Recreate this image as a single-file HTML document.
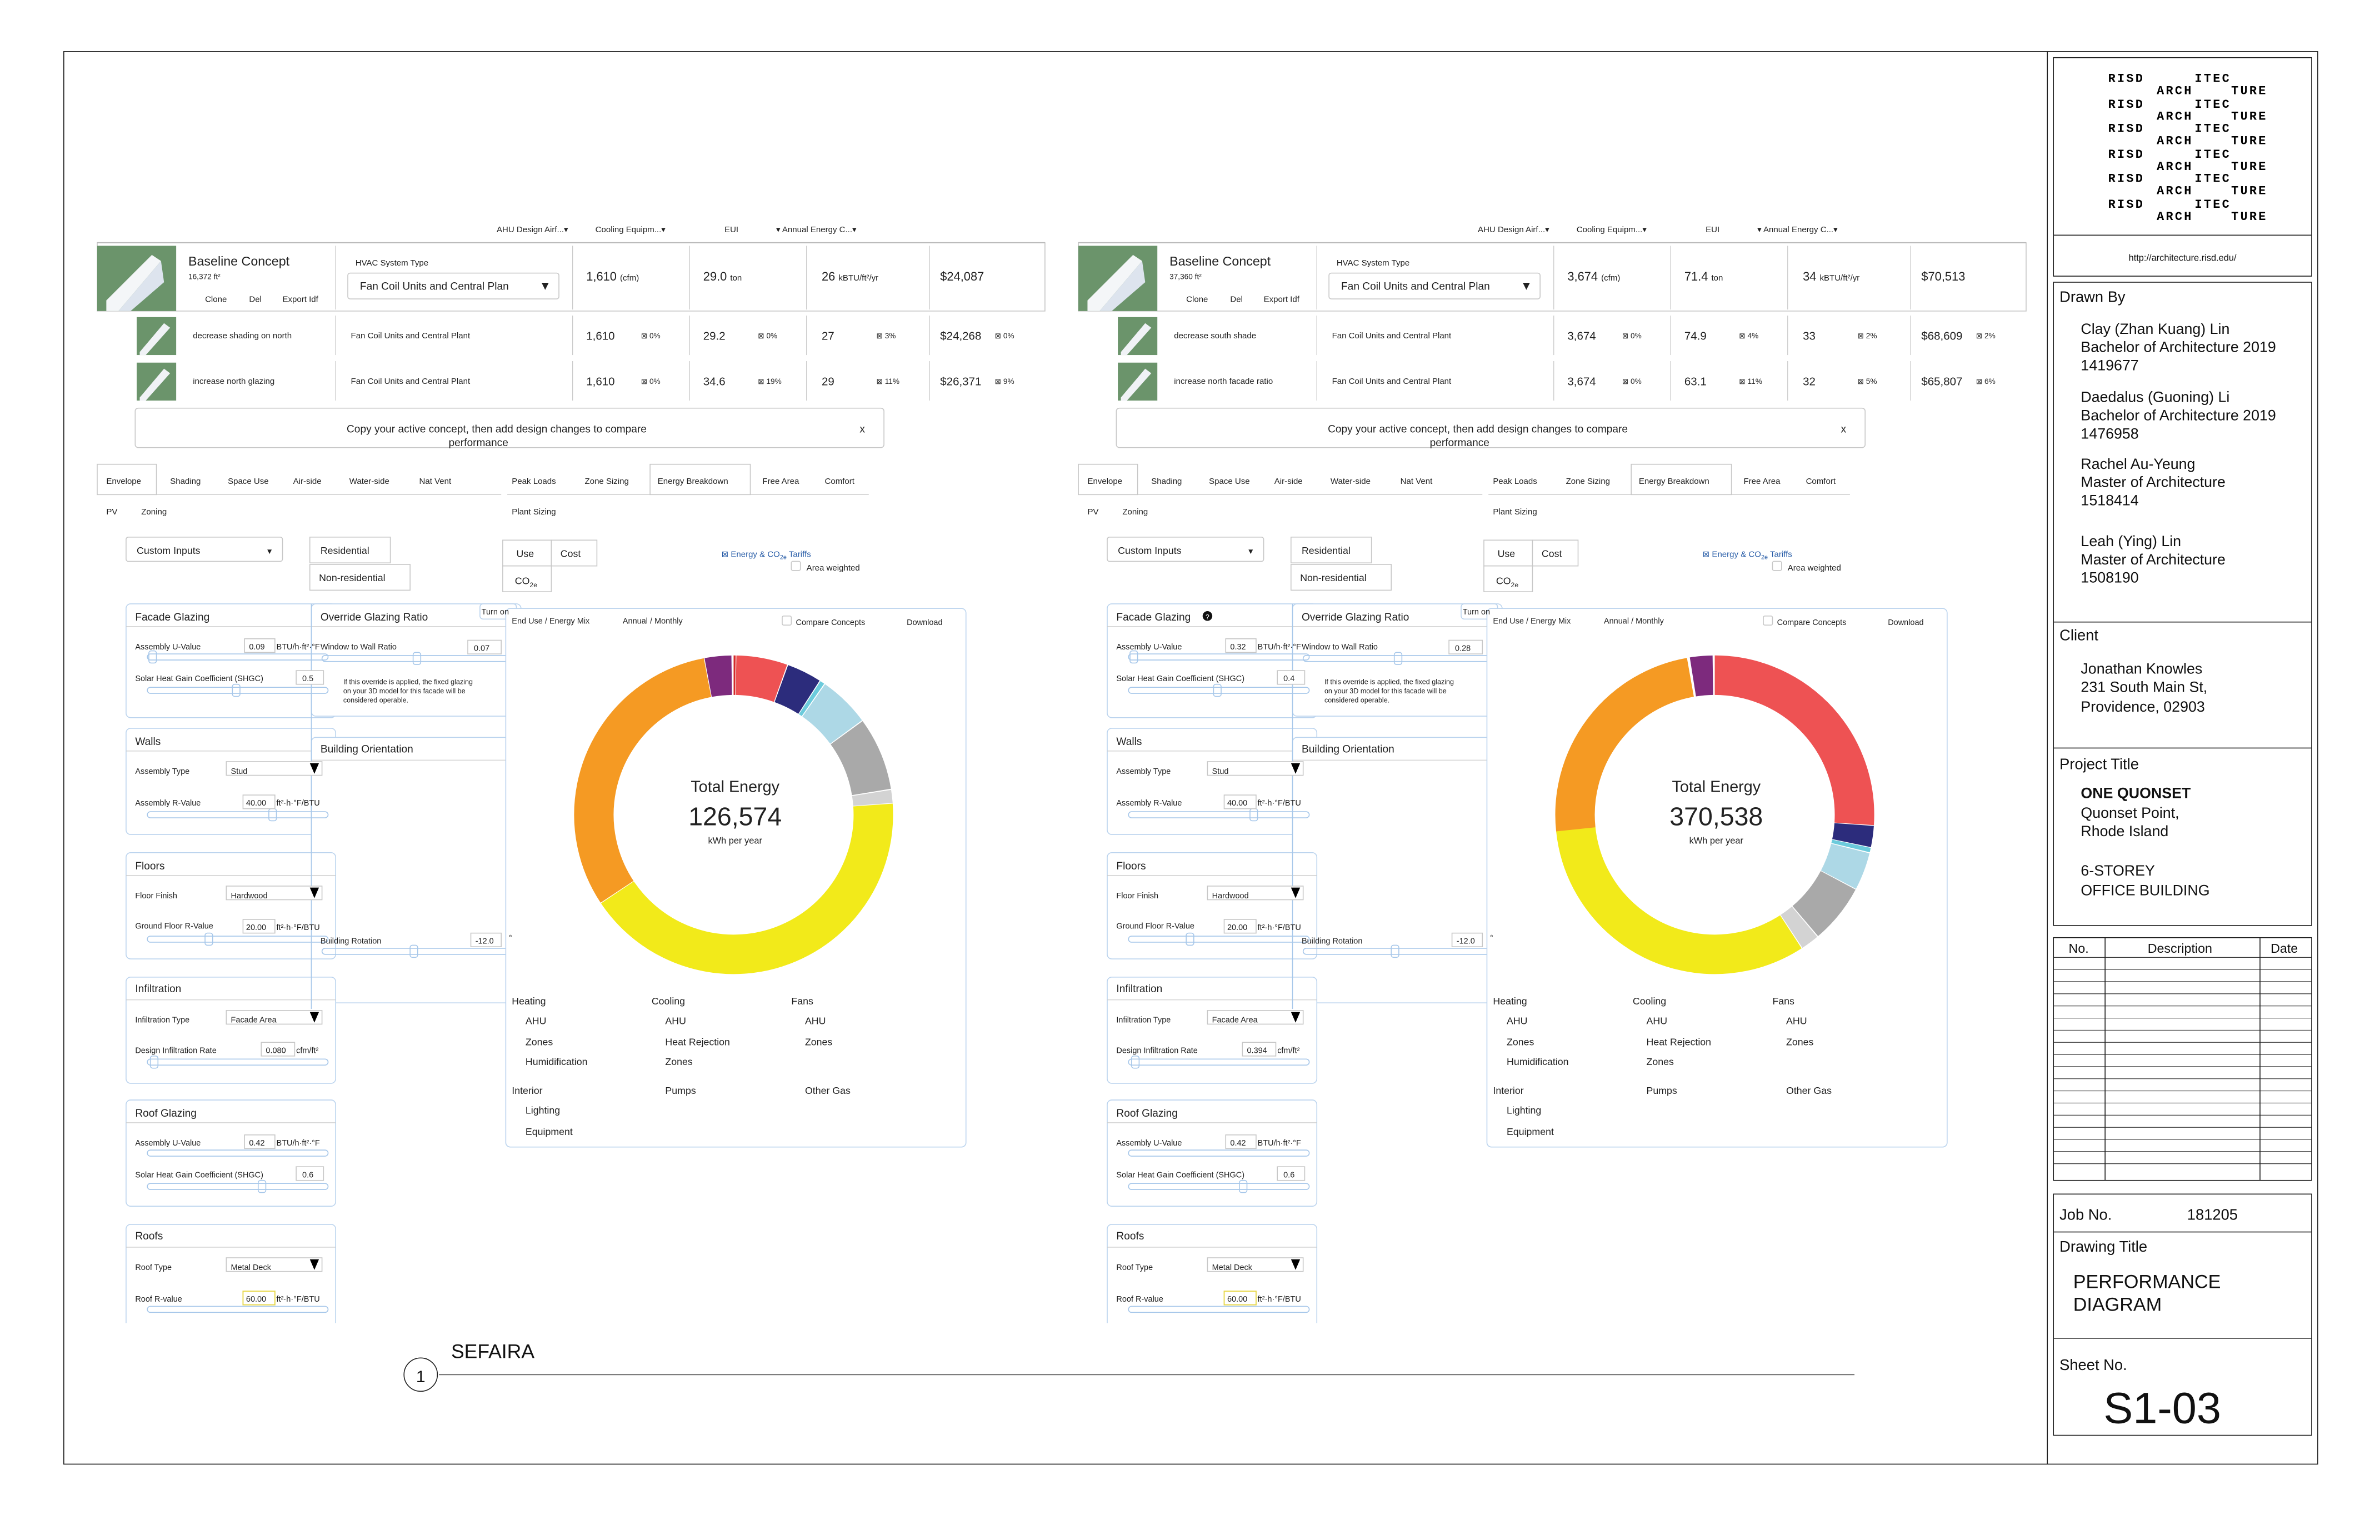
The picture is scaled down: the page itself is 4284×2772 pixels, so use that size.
<!DOCTYPE html>
<html><head><meta charset="utf-8"><style>
html,body{margin:0;padding:0;background:#fff}
svg{display:block}
.u{font-family:"Liberation Sans Narrow","Liberation Sans",sans-serif;fill:#222}
.t{font-family:"Liberation Sans",sans-serif;fill:#111}
.m{font-family:"Liberation Mono",monospace;font-weight:bold;fill:#000;font-size:8px;letter-spacing:1.2px}
.bx{fill:#fff;stroke:#c8c8c8;stroke-width:.6}
.pn{fill:#fff;stroke:#bcd4ee;stroke-width:.6}
.sl{fill:none;stroke:#a8c8ea;stroke-width:.6}
.ln{stroke:#ccc;stroke-width:.5}
.bl{stroke:#222;stroke-width:.6;fill:none}
</style></head><body>
<svg width="4284" height="2772" viewBox="0 0 1567 1015" preserveAspectRatio="none" xmlns="http://www.w3.org/2000/svg">
<defs>
<g id="panel">
 <rect x="64" y="160" width="624" height="45" class="bx"/>
 <rect x="64" y="162" width="52" height="43" fill="#6b946b"/>
 <polygon points="70,198 100,168 106,172 78,205 70,205" fill="#f4f6f8"/>
 <polygon points="78,205 106,172 108,186 86,205" fill="#dde4ee"/>
 <rect x="229" y="180" width="139" height="17" rx="1.5" class="bx"/>
 <g class="ln"><line x1="221" y1="162" x2="221" y2="204"/><line x1="377" y1="162" x2="377" y2="204"/><line x1="454" y1="162" x2="454" y2="204"/><line x1="531" y1="162" x2="531" y2="204"/><line x1="612" y1="162" x2="612" y2="204"/>
 <line x1="221" y1="208" x2="221" y2="234"/><line x1="377" y1="208" x2="377" y2="234"/><line x1="454" y1="208" x2="454" y2="234"/><line x1="531" y1="208" x2="531" y2="234"/><line x1="612" y1="208" x2="612" y2="234"/>
 <line x1="221" y1="238" x2="221" y2="264"/><line x1="377" y1="238" x2="377" y2="264"/><line x1="454" y1="238" x2="454" y2="264"/><line x1="531" y1="238" x2="531" y2="264"/><line x1="612" y1="238" x2="612" y2="264"/></g>
 <rect x="90" y="209" width="26" height="25" fill="#6b946b"/><polygon points="92,232 108,213 112,216 96,234 92,234" fill="#f0f2f6"/>
 <rect x="90" y="239" width="26" height="25" fill="#6b946b"/><polygon points="92,262 108,243 112,246 96,264 92,264" fill="#f0f2f6"/>
 <rect x="89" y="269" width="493" height="26" rx="2" class="bx"/>
 <line x1="64" y1="326" x2="330" y2="326" class="ln"/><line x1="334" y1="326" x2="572" y2="326" class="ln"/>
 <rect x="64" y="306" width="39" height="20" class="bx"/><rect x="428" y="306" width="66" height="20" class="bx"/>
 <rect x="83" y="354" width="103" height="16" rx="1.5" class="bx"/>
 <rect x="204" y="354" width="53" height="17" class="bx"/><rect x="204" y="372" width="66" height="17" class="bx"/>
 <rect x="331" y="356" width="32" height="17" class="bx"/><rect x="363" y="356" width="30" height="17" class="bx"/><rect x="331" y="373" width="32" height="17" class="bx"/>
 <rect x="521" y="370" width="6" height="6" rx="1" class="bx"/>
 <rect x="83" y="398" width="138" height="75" rx="3" class="pn"/><line x1="83" y1="413" x2="221" y2="413" class="ln"/>
 <rect x="205" y="398" width="138" height="74" rx="3" class="pn"/><line x1="205" y1="413" x2="343" y2="413" class="ln"/>
 <rect x="316" y="398" width="24" height="10" rx="2" class="pn"/>
 <rect x="83" y="480" width="138" height="70" rx="3" class="pn"/><line x1="83" y1="495" x2="221" y2="495" class="ln"/>
 <rect x="205" y="486" width="138" height="175" rx="3" class="pn"/><line x1="205" y1="501" x2="343" y2="501" class="ln"/>
 <rect x="83" y="562" width="138" height="70" rx="3" class="pn"/><line x1="83" y1="577" x2="221" y2="577" class="ln"/>
 <rect x="83" y="644" width="138" height="70" rx="3" class="pn"/><line x1="83" y1="659" x2="221" y2="659" class="ln"/>
 <rect x="83" y="725" width="138" height="70" rx="3" class="pn"/><line x1="83" y1="740" x2="221" y2="740" class="ln"/>
 <path d="M83,872 V810 a3,3 0 0 1 3,-3 H218 a3,3 0 0 1 3,3 V872" class="pn"/><line x1="83" y1="822" x2="221" y2="822" class="ln"/>
 <g class="sl">
 <rect x="97" y="431" width="119" height="4" rx="2"/><rect x="97" y="453" width="119" height="4" rx="2"/>
 <rect x="212" y="432" width="124" height="4" rx="2"/>
 <rect x="97" y="535" width="119" height="4" rx="2"/><rect x="97" y="617" width="119" height="4" rx="2"/>
 <rect x="212" y="625" width="124" height="4" rx="2"/>
 <rect x="97" y="698" width="119" height="4" rx="2"/><rect x="97" y="758" width="119" height="4" rx="2"/><rect x="97" y="780" width="119" height="4" rx="2"/>
 <rect x="97" y="861" width="119" height="4" rx="2"/>
 <rect x="98" y="429" width="5" height="8" rx="1.5"/><rect x="153" y="451" width="5" height="8" rx="1.5"/><rect x="272" y="430" width="5" height="8" rx="1.5"/>
 <rect x="177" y="533" width="5" height="8" rx="1.5"/><rect x="135" y="615" width="5" height="8" rx="1.5"/><rect x="270" y="623" width="5" height="8" rx="1.5"/>
 <rect x="99" y="696" width="5" height="8" rx="1.5"/><rect x="170" y="778" width="5" height="8" rx="1.5"/>
 <line x1="205" y1="398" x2="205" y2="665"/><line x1="338" y1="405" x2="338" y2="665"/>
 </g>
 <g class="bx">
 <rect x="161" y="421" width="20" height="9"/><rect x="195" y="442" width="18" height="9"/><rect x="308" y="422" width="22" height="9"/>
 <rect x="149" y="502" width="63" height="9"/><rect x="160" y="524" width="21" height="9"/>
 <rect x="149" y="584" width="63" height="9"/><rect x="160" y="606" width="21" height="9"/><rect x="310" y="615" width="20" height="9"/>
 <rect x="149" y="666" width="63" height="9"/><rect x="172" y="687" width="22" height="9"/>
 <rect x="161" y="748" width="20" height="9"/><rect x="195" y="769" width="18" height="9"/>
 <rect x="149" y="829" width="63" height="9"/></g>
 <rect x="160" y="851" width="21" height="9" fill="#fff" stroke="#e8d84a" stroke-width=".7"/>
 <g fill="#000"><polygon points="204,503 210,503 207,510"/><polygon points="204,585 210,585 207,592"/><polygon points="204,667 210,667 207,674"/><polygon points="204,830 210,830 207,837"/></g>
 <rect x="333" y="401" width="303" height="355" rx="3" class="pn"/>
 <rect x="515" y="406" width="6" height="6" rx="1" class="bx"/>
 <line x1="64" y1="160" x2="688" y2="160" stroke="#bbb" stroke-width=".8"/>
</g>
</defs>

<rect x="42" y="34" width="1484" height="931" class="bl"/>
<line x1="1348" y1="34" x2="1348" y2="965" class="bl"/>
<rect x="1352" y="38" width="170" height="144" class="bl"/><line x1="1352" y1="155" x2="1522" y2="155" class="bl"/>
<rect x="1352" y="186" width="170" height="424" class="bl"/>
<line x1="1352" y1="410" x2="1522" y2="410" class="bl"/><line x1="1352" y1="493" x2="1522" y2="493" class="bl"/>
<rect x="1352" y="618" width="170" height="160" class="bl"/>
<line x1="1386" y1="618" x2="1386" y2="778" class="bl"/><line x1="1488" y1="618" x2="1488" y2="778" class="bl"/>
<g stroke="#222" stroke-width=".4">
<line x1="1352" y1="631" x2="1522" y2="631"/><line x1="1352" y1="639" x2="1522" y2="639"/><line x1="1352" y1="647" x2="1522" y2="647"/><line x1="1352" y1="655" x2="1522" y2="655"/><line x1="1352" y1="663" x2="1522" y2="663"/><line x1="1352" y1="671" x2="1522" y2="671"/><line x1="1352" y1="679" x2="1522" y2="679"/><line x1="1352" y1="687" x2="1522" y2="687"/><line x1="1352" y1="695" x2="1522" y2="695"/><line x1="1352" y1="703" x2="1522" y2="703"/><line x1="1352" y1="711" x2="1522" y2="711"/><line x1="1352" y1="719" x2="1522" y2="719"/><line x1="1352" y1="727" x2="1522" y2="727"/><line x1="1352" y1="735" x2="1522" y2="735"/><line x1="1352" y1="743" x2="1522" y2="743"/><line x1="1352" y1="751" x2="1522" y2="751"/><line x1="1352" y1="759" x2="1522" y2="759"/><line x1="1352" y1="767" x2="1522" y2="767"/></g>
<rect x="1352" y="787" width="170" height="159" class="bl"/><line x1="1352" y1="812" x2="1522" y2="812" class="bl"/><line x1="1352" y1="882" x2="1522" y2="882" class="bl"/>

<g class="m">
<text x="1388" y="54">RISD</text><text x="1445" y="54">ITEC</text><text x="1420" y="62">ARCH</text><text x="1469" y="62">TURE</text>
<text x="1388" y="71">RISD</text><text x="1445" y="71">ITEC</text><text x="1420" y="79">ARCH</text><text x="1469" y="79">TURE</text>
<text x="1388" y="87">RISD</text><text x="1445" y="87">ITEC</text><text x="1420" y="95">ARCH</text><text x="1469" y="95">TURE</text>
<text x="1388" y="104">RISD</text><text x="1445" y="104">ITEC</text><text x="1420" y="112">ARCH</text><text x="1469" y="112">TURE</text>
<text x="1388" y="120">RISD</text><text x="1445" y="120">ITEC</text><text x="1420" y="128">ARCH</text><text x="1469" y="128">TURE</text>
<text x="1388" y="137">RISD</text><text x="1445" y="137">ITEC</text><text x="1420" y="145">ARCH</text><text x="1469" y="145">TURE</text>
</g>
<g class="t">
<text x="1437" y="172" font-size="6" text-anchor="middle">http://architecture.risd.edu/</text>
<g font-size="10"><text x="1356" y="199">Drawn By</text><text x="1356" y="422">Client</text><text x="1356" y="507">Project Title</text></g>
<g font-size="9.8">
<text x="1370" y="220">Clay (Zhan Kuang) Lin</text><text x="1370" y="232">Bachelor of Architecture 2019</text><text x="1370" y="244">1419677</text>
<text x="1370" y="265">Daedalus (Guoning) Li</text><text x="1370" y="277">Bachelor of Architecture 2019</text><text x="1370" y="289">1476958</text>
<text x="1370" y="309">Rachel Au-Yeung</text><text x="1370" y="321">Master of Architecture</text><text x="1370" y="333">1518414</text>
<text x="1370" y="360">Leah (Ying) Lin</text><text x="1370" y="372">Master of Architecture</text><text x="1370" y="384">1508190</text>
<text x="1370" y="444">Jonathan Knowles</text><text x="1370" y="456">231 South Main St,</text><text x="1370" y="469">Providence, 02903</text>
<text x="1370" y="526" font-weight="bold">ONE QUONSET</text><text x="1370" y="539">Quonset Point,</text><text x="1370" y="551">Rhode Island</text>
<text x="1370" y="577">6-STOREY</text><text x="1370" y="590">OFFICE BUILDING</text>
</g>
<g font-size="8.5"><text x="1362" y="628">No.</text><text x="1414" y="628">Description</text><text x="1495" y="628">Date</text></g>
<g font-size="10"><text x="1356" y="804">Job No.</text><text x="1440" y="804">181205</text><text x="1356" y="825">Drawing Title</text><text x="1356" y="903">Sheet No.</text></g>
<g font-size="12.5"><text x="1365" y="849">PERFORMANCE</text><text x="1365" y="864">DIAGRAM</text></g>
<text x="1385" y="938" font-size="29">S1-03</text>
<text x="297" y="895" font-size="13">SEFAIRA</text>
<text x="277" y="911" font-size="11" text-anchor="middle">1</text>
</g>
<circle cx="277" cy="906" r="11" class="bl"/>
<line x1="289" y1="906" x2="1221" y2="906" stroke="#666" stroke-width=".7"/>

<use href="#panel"/>
<use href="#panel" transform="translate(646,0)"/>

<g fill="none" stroke-width="26">
<g transform="translate(483,537)">
<circle r="92" stroke="#d42a2a" stroke-dasharray="1.2 600" transform="rotate(-90)"/>
<circle r="92" stroke="#ee5253" stroke-dasharray="29.9 600" transform="rotate(-89)"/>
<circle r="92" stroke="#2c2c7c" stroke-dasharray="20.3 600" transform="rotate(-70)"/>
<circle r="92" stroke="#6ccbdc" stroke-dasharray="2.6 600" transform="rotate(-57)"/>
<circle r="92" stroke="#add8e6" stroke-dasharray="29.9 600" transform="rotate(-55)"/>
<circle r="92" stroke="#a9a9a9" stroke-dasharray="42.7 600" transform="rotate(-36)"/>
<circle r="92" stroke="#d3d3d3" stroke-dasharray="7.6 600" transform="rotate(-9)"/>
<circle r="92" stroke="#f2ea1a" stroke-dasharray="241.2 600" transform="rotate(-4)"/>
<circle r="92" stroke="#f59a23" stroke-dasharray="181 600" transform="rotate(146.5)"/>
<circle r="92" stroke="#7d2a7d" stroke-dasharray="15.6 600" transform="rotate(259.5)"/>
</g>
<g transform="translate(1129,537)">
<circle r="92" stroke="#ee5253" stroke-dasharray="150.5 600" transform="rotate(-90)"/>
<circle r="92" stroke="#2c2c7c" stroke-dasharray="12.4 600" transform="rotate(4)"/>
<circle r="92" stroke="#6ccbdc" stroke-dasharray="2.6 600" transform="rotate(12)"/>
<circle r="92" stroke="#add8e6" stroke-dasharray="22 600" transform="rotate(14)"/>
<circle r="92" stroke="#a9a9a9" stroke-dasharray="34.7 600" transform="rotate(28)"/>
<circle r="92" stroke="#d3d3d3" stroke-dasharray="10.7 600" transform="rotate(50)"/>
<circle r="92" stroke="#f2ea1a" stroke-dasharray="188.3 600" transform="rotate(57)"/>
<circle r="92" stroke="#f59a23" stroke-dasharray="138 600" transform="rotate(174)"/>
<circle r="92" stroke="#7d2a7d" stroke-dasharray="13.2 600" transform="rotate(261)"/>
</g>
</g>

<g class="u">
<g font-size="5.5"><text x="327" y="153">AHU Design Airf...▾</text><text x="392" y="153">Cooling Equipm...▾</text><text x="477" y="153">EUI</text><text x="511" y="153">▾  Annual Energy C...▾</text></g>
<text x="124" y="175" font-size="8.5">Baseline Concept</text><text x="124" y="184" font-size="5">16,372 ft²</text>
<g font-size="5.5"><text x="135" y="199">Clone</text><text x="164" y="199">Del</text><text x="186" y="199">Export Idf</text><text x="234" y="175">HVAC System Type</text></g>
<text x="237" y="191" font-size="7">Fan Coil Units and Central Plan</text><text x="355" y="191" font-size="8">▼</text>
<text x="386" y="185" font-size="8">1,610 <tspan font-size="5.5">(cfm)</tspan></text><text x="463" y="185" font-size="8">29.0 <tspan font-size="5.5">ton</tspan></text><text x="541" y="185" font-size="8">26 <tspan font-size="5.5">kBTU/ft²/yr</tspan></text><text x="619" y="185" font-size="8">$24,087</text>
<g font-size="5.5"><text x="127" y="223">decrease shading on north</text><text x="231" y="223">Fan Coil Units and Central Plant</text><text x="127" y="253">increase north glazing</text><text x="231" y="253">Fan Coil Units and Central Plant</text></g>
<g font-size="7.5"><text x="386" y="224">1,610</text><text x="463" y="224">29.2</text><text x="541" y="224">27</text><text x="619" y="224">$24,268</text>
<text x="386" y="254">1,610</text><text x="463" y="254">34.6</text><text x="541" y="254">29</text><text x="619" y="254">$26,371</text></g>
<g font-size="5"><text x="422" y="223">⊠ 0%</text><text x="499" y="223">⊠ 0%</text><text x="577" y="223">⊠ 3%</text><text x="655" y="223">⊠ 0%</text>
<text x="422" y="253">⊠ 0%</text><text x="499" y="253">⊠ 19%</text><text x="577" y="253">⊠ 11%</text><text x="655" y="253">⊠ 9%</text></g>
<g font-size="7"><text x="327" y="285" text-anchor="middle">Copy your active concept, then add design changes to compare</text><text x="315" y="294" text-anchor="middle">performance</text><text x="566" y="285">x</text></g>
<g font-size="5.5"><text x="70" y="319">Envelope</text><text x="112" y="319">Shading</text><text x="150" y="319">Space Use</text><text x="193" y="319">Air-side</text><text x="230" y="319">Water-side</text><text x="276" y="319">Nat Vent</text>
<text x="337" y="319">Peak Loads</text><text x="385" y="319">Zone Sizing</text><text x="433" y="319">Energy Breakdown</text><text x="502" y="319">Free Area</text><text x="543" y="319">Comfort</text>
<text x="70" y="339">PV</text><text x="93" y="339">Zoning</text><text x="337" y="339">Plant Sizing</text></g>
<g font-size="6.5"><text x="90" y="365">Custom Inputs</text><text x="175" y="365" font-size="5">▼</text><text x="211" y="365">Residential</text><text x="210" y="383">Non-residential</text><text x="340" y="367">Use</text><text x="369" y="367">Cost</text><text x="339" y="385">CO<tspan font-size="4.5" dy="2">2e</tspan></text></g>
<text x="475" y="367" font-size="5.5" fill="#2a5ea8">⊠ Energy &amp; CO<tspan font-size="4" dy="1.5">2e</tspan><tspan dy="-1.5"> Tariffs</tspan></text>
<text x="531" y="376" font-size="5.5">Area weighted</text>
<g font-size="7"><text x="89" y="409">Facade Glazing</text><text x="211" y="409">Override Glazing Ratio</text><text x="89" y="491">Walls</text><text x="211" y="496">Building Orientation</text><text x="89" y="573">Floors</text><text x="89" y="654">Infiltration</text><text x="89" y="736">Roof Glazing</text><text x="89" y="817">Roofs</text></g>
<g font-size="5.3">
<text x="317" y="405">Turn on</text><text x="337" y="411">End Use / Energy Mix</text><text x="410" y="411">Annual / Monthly</text><text x="524" y="412">Compare Concepts</text><text x="597" y="412">Download</text>
<text x="89" y="428">Assembly U-Value</text><text x="164" y="428">0.09</text><text x="182" y="428">BTU/h·ft²·°F</text>
<text x="211" y="428">Window to Wall Ratio</text><text x="312" y="429">0.07</text>
<text x="89" y="449">Solar Heat Gain Coefficient (SHGC)</text><text x="199" y="449">0.5</text>
<text x="89" y="510">Assembly Type</text><text x="152" y="510">Stud</text>
<text x="89" y="531">Assembly R-Value</text><text x="162" y="531">40.00</text><text x="182" y="531">ft²·h·°F/BTU</text>
<text x="89" y="592">Floor Finish</text><text x="152" y="592">Hardwood</text>
<text x="89" y="612">Ground Floor R-Value</text><text x="162" y="613">20.00</text><text x="182" y="613">ft²·h·°F/BTU</text>
<text x="211" y="622">Building Rotation</text><text x="313" y="622">-12.0</text><text x="335" y="620">°</text>
<text x="89" y="674">Infiltration Type</text><text x="152" y="674">Facade Area</text>
<text x="89" y="694">Design Infiltration Rate</text><text x="175" y="694">0.080</text><text x="195" y="694">cfm/ft²</text>
<text x="89" y="755">Assembly U-Value</text><text x="164" y="755">0.42</text><text x="182" y="755">BTU/h·ft²·°F</text>
<text x="89" y="776">Solar Heat Gain Coefficient (SHGC)</text><text x="199" y="776">0.6</text>
<text x="89" y="837">Roof Type</text><text x="152" y="837">Metal Deck</text>
<text x="89" y="858">Roof R-value</text><text x="162" y="858">60.00</text><text x="182" y="858">ft²·h·°F/BTU</text>
</g>
<g font-size="4.6"><text x="226" y="451">If this override is applied, the fixed glazing</text><text x="226" y="457">on your 3D model for this facade will be</text><text x="226" y="463">considered operable.</text></g>
<text x="484" y="522" font-size="10.5" text-anchor="middle">Total Energy</text><text x="484" y="544" font-size="17" text-anchor="middle">126,574</text><text x="484" y="556" font-size="6" text-anchor="middle">kWh per year</text>
<g font-size="6.5"><text x="337" y="662">Heating</text><text x="429" y="662">Cooling</text><text x="521" y="662">Fans</text>
<text x="346" y="675">AHU</text><text x="438" y="675">AHU</text><text x="530" y="675">AHU</text>
<text x="346" y="689">Zones</text><text x="438" y="689">Heat Rejection</text><text x="530" y="689">Zones</text>
<text x="346" y="702">Humidification</text><text x="438" y="702">Zones</text>
<text x="337" y="721">Interior</text><text x="438" y="721">Pumps</text><text x="530" y="721">Other Gas</text>
<text x="346" y="734">Lighting</text><text x="346" y="748">Equipment</text></g>
</g>

<g class="u" transform="translate(646,0)">
<g font-size="5.5"><text x="327" y="153">AHU Design Airf...▾</text><text x="392" y="153">Cooling Equipm...▾</text><text x="477" y="153">EUI</text><text x="511" y="153">▾  Annual Energy C...▾</text></g>
<text x="124" y="175" font-size="8.5">Baseline Concept</text><text x="124" y="184" font-size="5">37,360 ft²</text>
<g font-size="5.5"><text x="135" y="199">Clone</text><text x="164" y="199">Del</text><text x="186" y="199">Export Idf</text><text x="234" y="175">HVAC System Type</text></g>
<text x="237" y="191" font-size="7">Fan Coil Units and Central Plan</text><text x="355" y="191" font-size="8">▼</text>
<text x="386" y="185" font-size="8">3,674 <tspan font-size="5.5">(cfm)</tspan></text><text x="463" y="185" font-size="8">71.4 <tspan font-size="5.5">ton</tspan></text><text x="541" y="185" font-size="8">34 <tspan font-size="5.5">kBTU/ft²/yr</tspan></text><text x="619" y="185" font-size="8">$70,513</text>
<g font-size="5.5"><text x="127" y="223">decrease south shade</text><text x="231" y="223">Fan Coil Units and Central Plant</text><text x="127" y="253">increase north facade ratio</text><text x="231" y="253">Fan Coil Units and Central Plant</text></g>
<g font-size="7.5"><text x="386" y="224">3,674</text><text x="463" y="224">74.9</text><text x="541" y="224">33</text><text x="619" y="224">$68,609</text>
<text x="386" y="254">3,674</text><text x="463" y="254">63.1</text><text x="541" y="254">32</text><text x="619" y="254">$65,807</text></g>
<g font-size="5"><text x="422" y="223">⊠ 0%</text><text x="499" y="223">⊠ 4%</text><text x="577" y="223">⊠ 2%</text><text x="655" y="223">⊠ 2%</text>
<text x="422" y="253">⊠ 0%</text><text x="499" y="253">⊠ 11%</text><text x="577" y="253">⊠ 5%</text><text x="655" y="253">⊠ 6%</text></g>
<g font-size="7"><text x="327" y="285" text-anchor="middle">Copy your active concept, then add design changes to compare</text><text x="315" y="294" text-anchor="middle">performance</text><text x="566" y="285">x</text></g>
<g font-size="5.5"><text x="70" y="319">Envelope</text><text x="112" y="319">Shading</text><text x="150" y="319">Space Use</text><text x="193" y="319">Air-side</text><text x="230" y="319">Water-side</text><text x="276" y="319">Nat Vent</text>
<text x="337" y="319">Peak Loads</text><text x="385" y="319">Zone Sizing</text><text x="433" y="319">Energy Breakdown</text><text x="502" y="319">Free Area</text><text x="543" y="319">Comfort</text>
<text x="70" y="339">PV</text><text x="93" y="339">Zoning</text><text x="337" y="339">Plant Sizing</text></g>
<g font-size="6.5"><text x="90" y="365">Custom Inputs</text><text x="175" y="365" font-size="5">▼</text><text x="211" y="365">Residential</text><text x="210" y="383">Non-residential</text><text x="340" y="367">Use</text><text x="369" y="367">Cost</text><text x="339" y="385">CO<tspan font-size="4.5" dy="2">2e</tspan></text></g>
<text x="475" y="367" font-size="5.5" fill="#2a5ea8">⊠ Energy &amp; CO<tspan font-size="4" dy="1.5">2e</tspan><tspan dy="-1.5"> Tariffs</tspan></text>
<text x="531" y="376" font-size="5.5">Area weighted</text>
<circle cx="149" cy="406" r="3.2" fill="#111"/><text x="149" y="408" font-size="4.5" fill="#fff" text-anchor="middle">?</text>
<g font-size="7"><text x="89" y="409">Facade Glazing</text><text x="211" y="409">Override Glazing Ratio</text><text x="89" y="491">Walls</text><text x="211" y="496">Building Orientation</text><text x="89" y="573">Floors</text><text x="89" y="654">Infiltration</text><text x="89" y="736">Roof Glazing</text><text x="89" y="817">Roofs</text></g>
<g font-size="5.3">
<text x="317" y="405">Turn on</text><text x="337" y="411">End Use / Energy Mix</text><text x="410" y="411">Annual / Monthly</text><text x="524" y="412">Compare Concepts</text><text x="597" y="412">Download</text>
<text x="89" y="428">Assembly U-Value</text><text x="164" y="428">0.32</text><text x="182" y="428">BTU/h·ft²·°F</text>
<text x="211" y="428">Window to Wall Ratio</text><text x="312" y="429">0.28</text>
<text x="89" y="449">Solar Heat Gain Coefficient (SHGC)</text><text x="199" y="449">0.4</text>
<text x="89" y="510">Assembly Type</text><text x="152" y="510">Stud</text>
<text x="89" y="531">Assembly R-Value</text><text x="162" y="531">40.00</text><text x="182" y="531">ft²·h·°F/BTU</text>
<text x="89" y="592">Floor Finish</text><text x="152" y="592">Hardwood</text>
<text x="89" y="612">Ground Floor R-Value</text><text x="162" y="613">20.00</text><text x="182" y="613">ft²·h·°F/BTU</text>
<text x="211" y="622">Building Rotation</text><text x="313" y="622">-12.0</text><text x="335" y="620">°</text>
<text x="89" y="674">Infiltration Type</text><text x="152" y="674">Facade Area</text>
<text x="89" y="694">Design Infiltration Rate</text><text x="175" y="694">0.394</text><text x="195" y="694">cfm/ft²</text>
<text x="89" y="755">Assembly U-Value</text><text x="164" y="755">0.42</text><text x="182" y="755">BTU/h·ft²·°F</text>
<text x="89" y="776">Solar Heat Gain Coefficient (SHGC)</text><text x="199" y="776">0.6</text>
<text x="89" y="837">Roof Type</text><text x="152" y="837">Metal Deck</text>
<text x="89" y="858">Roof R-value</text><text x="162" y="858">60.00</text><text x="182" y="858">ft²·h·°F/BTU</text>
</g>
<g font-size="4.6"><text x="226" y="451">If this override is applied, the fixed glazing</text><text x="226" y="457">on your 3D model for this facade will be</text><text x="226" y="463">considered operable.</text></g>
<text x="484" y="522" font-size="10.5" text-anchor="middle">Total Energy</text><text x="484" y="544" font-size="17" text-anchor="middle">370,538</text><text x="484" y="556" font-size="6" text-anchor="middle">kWh per year</text>
<g font-size="6.5"><text x="337" y="662">Heating</text><text x="429" y="662">Cooling</text><text x="521" y="662">Fans</text>
<text x="346" y="675">AHU</text><text x="438" y="675">AHU</text><text x="530" y="675">AHU</text>
<text x="346" y="689">Zones</text><text x="438" y="689">Heat Rejection</text><text x="530" y="689">Zones</text>
<text x="346" y="702">Humidification</text><text x="438" y="702">Zones</text>
<text x="337" y="721">Interior</text><text x="438" y="721">Pumps</text><text x="530" y="721">Other Gas</text>
<text x="346" y="734">Lighting</text><text x="346" y="748">Equipment</text></g>
</g>
</svg>
</body></html>
